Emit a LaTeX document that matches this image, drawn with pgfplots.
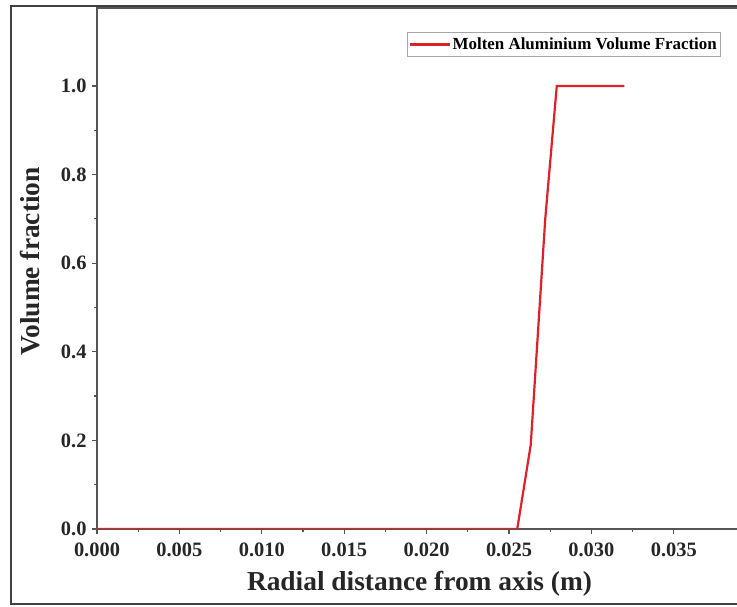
\documentclass[border=0pt]{standalone}
\usepackage{pgfplots}
\pgfplotsset{compat=1.18}
\usepackage{fontspec}
\setmainfont{Liberation Serif}
\definecolor{meltRed}{RGB}{222,32,40}
\definecolor{axGray}{RGB}{85,85,85}
\begin{document}
\begin{tikzpicture}[x=1bp,y=1bp]
\clip (-97,-78) rectangle (640,529);
\draw[line width=1.2bp, black!75] (-86,-75) rectangle (660,523);
\begin{axis}[
  scale only axis,
  width=645bp, height=521bp,
  at={(0,0)}, anchor=south west,
  xmin=0, xmax=0.03914,
  ymin=0, ymax=1.176,
  xtick={0,0.005,...,0.035},
  ytick={0,0.2,...,1.0},
  minor x tick num=1,
  minor y tick num=1,
  xtick pos=bottom, ytick pos=left,
  tick align=outside,
  major tick length=5bp, minor tick length=3bp,
  every tick/.style={axGray, line width=1.2bp},
  axis line style={axGray, line width=1.8bp},
  scaled x ticks=false,
  x tick label style={/pgf/number format/fixed, /pgf/number format/fixed zerofill,
    /pgf/number format/precision=3, yshift=-5bp},
  y tick label style={/pgf/number format/fixed, /pgf/number format/fixed zerofill,
    /pgf/number format/precision=1, xshift=-2bp},
  /pgf/number format/assume math mode=true,
  ticklabel style={font=\bfseries\fontsize{20.5}{20.5}\selectfont, text=black!85},
  xlabel={Radial distance from axis (m)},
  ylabel={Volume fraction},
  label style={font=\bfseries\fontsize{27.5}{27.5}\selectfont, text=black!85},
  xlabel style={at={(axis description cs:0.5,0)}, anchor=center, yshift=-55bp},
  ylabel style={at={(axis description cs:0,0.5)}, anchor=center, yshift=67bp, xshift=7bp},
  legend style={font=\bfseries\fontsize{17}{17}\selectfont,
    at={(axis description cs:0.967,0.954)}, anchor=north east,
    draw=gray!70, line width=0.8bp, inner xsep=1.5bp, inner ysep=3.5bp},
  legend cell align=left,
  legend image post style={line width=2.2bp},
  legend image code/.code={\draw[#1] (0bp,0bp) -- (40bp,0bp);},
]
\addplot[color=meltRed, line width=2.2bp] coordinates {
  (0.0000,0.000) (0.0255,0.000) (0.02632,0.19) (0.0272,0.70)
  (0.0279,1.000) (0.0320,1.000)
};
\addlegendentry{Molten Aluminium Volume Fraction}
\end{axis}
\end{tikzpicture}
\end{document}
